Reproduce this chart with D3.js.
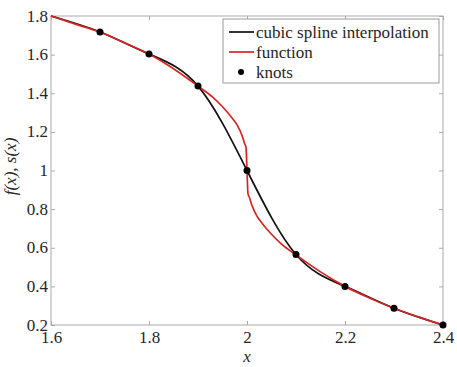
<!DOCTYPE html>
<html>
<head>
<meta charset="utf-8">
<script src="https://cdn.jsdelivr.net/npm/d3@7"></script>
<style>
	body { margin: 0; background: #fff; }
	svg text { font-family: 'Liberation Serif', serif !important; }
</style>
</head>
<body>
<div class="chart"></div>
<script>
// knots of the spline (the first one is the left end, no marker drawn there)
const knotX = [1.6, 1.7, 1.8, 1.9, 2.0, 2.1, 2.2, 2.3, 2.4]
const knotY = [1.8, 1.717, 1.603, 1.437, 1.0, 0.565, 0.4, 0.287, 0.2]

// the function
const funcX = [1.6, 1.65, 1.7, 1.75, 1.8, 1.85, 1.9, 1.93, 1.95, 1.97, 1.98, 1.99, 1.995, 1.998,
	2.0, 2.002, 2.005, 2.01, 2.02, 2.03, 2.05, 2.07, 2.1, 2.15, 2.2, 2.25, 2.3, 2.35, 2.4]
const funcY = [1.8, 1.758, 1.717, 1.662, 1.603, 1.527, 1.437, 1.38, 1.33, 1.27, 1.235, 1.18, 1.14, 1.12,
	1.0, 0.88, 0.86, 0.82, 0.765, 0.73, 0.67, 0.62, 0.563, 0.475, 0.4, 0.34, 0.287, 0.242, 0.2]

const xTicks = [1.6, 1.8, 2, 2.2, 2.4]
const yTicks = [0.2, 0.4, 0.6, 0.8, 1, 1.2, 1.4, 1.6, 1.8]
const legendLabels = ['cubic spline interpolation', 'function', 'knots']

const W = 457, H = 367
const margin = ({ top: 16, right: 14, bottom: 42, left: 51 })
const width = W - margin.left - margin.right
const height = H - margin.top - margin.bottom
const axisColor = '#a9a9a9'
const red = '#d42424'
const serif = 'Liberation Serif'

const svg = d3.select('.chart')
	.append('svg')
	.attr('width', W)
	.attr('height', H)
	.style('display', 'block')

const g = svg.append('g')
	.attr('transform', `translate(${margin.left},${margin.top})`)

const x = d3.scaleLinear().domain([1.6, 2.4]).range([0, width])
const y = d3.scaleLinear().domain([0.2, 1.8]).range([height, 0])

const fmt = d3.format('')

// axes with inward ticks
function styleAxis(sel) {
	sel.attr('font-size', 17).attr('font-family', null)
	sel.select('.domain').remove()
	sel.selectAll('line').attr('stroke', axisColor)
	sel.selectAll('text').attr('fill', '#262626')
}

g.append('g')
	.attr('transform', `translate(0,${height})`)
	.call(d3.axisBottom(x).tickValues(xTicks).tickFormat(fmt).tickSize(-4).tickPadding(6))
	.call(styleAxis)

g.append('g')
	.call(d3.axisTop(x).tickValues(xTicks).tickFormat('').tickSize(-4))
	.call(styleAxis)

g.append('g')
	.call(d3.axisLeft(y).tickValues(yTicks).tickFormat(fmt).tickSize(-4).tickPadding(3))
	.call(styleAxis)
	.selectAll('text').attr('dy', '0.3em')

g.append('g')
	.attr('transform', `translate(${width},0)`)
	.call(d3.axisRight(y).tickValues(yTicks).tickFormat('').tickSize(-4))
	.call(styleAxis)

g.append('rect')
	.attr('width', width)
	.attr('height', height)
	.attr('fill', 'none')
	.attr('stroke', axisColor)

// curves
const knots = knotX.map((v, i) => ({ x: v, y: knotY[i] }))
const func = funcX.map((v, i) => ({ x: v, y: funcY[i] }))

g.append('path')
	.datum(knots)
	.attr('fill', 'none')
	.attr('stroke', '#111')
	.attr('stroke-width', 1.7)
	.attr('d', d3.line().x(d => x(d.x)).y(d => y(d.y)).curve(d3.curveNatural))

g.append('path')
	.datum(func)
	.attr('fill', 'none')
	.attr('stroke', red)
	.attr('stroke-width', 1.7)
	.attr('d', d3.line().x(d => x(d.x)).y(d => y(d.y)).curve(d3.curveMonotoneX))

g.selectAll('.knot')
	.data(knots.filter(d => d.x > 1.6))
	.join('circle')
	.attr('class', 'knot')
	.attr('cx', d => x(d.x))
	.attr('cy', d => y(d.y))
	.attr('r', 3.5)
	.attr('fill', '#000')

// axis labels
svg.append('text')
	.attr('x', margin.left + width / 2)
	.attr('y', 362)
	.attr('text-anchor', 'middle')
	.attr('font-size', 17)
	.attr('font-style', 'italic')
	.attr('fill', '#262626')
	.text('x')

svg.append('text')
	.attr('transform', `translate(16,${margin.top + height / 2 - 4}) rotate(-90)`)
	.attr('text-anchor', 'middle')
	.attr('font-size', 17)
	.attr('font-style', 'italic')
	.attr('fill', '#262626')
	.text('f(x), s(x)')

// legend
const legend = svg.append('g').attr('transform', 'translate(223,19)')
legend.append('rect')
	.attr('width', 216)
	.attr('height', 64)
	.attr('fill', '#fff')
	.attr('stroke', '#9a9a9a')

const rows = legend.selectAll('.row')
	.data(legendLabels)
	.join('g')
	.attr('transform', (d, i) => `translate(0,${13 + i * 20})`)

rows.filter((d, i) => i < 2)
	.append('line')
	.attr('x1', 6).attr('x2', 31)
	.attr('stroke', (d, i) => i === 0 ? '#111' : red)
	.attr('stroke-width', 1.7)

rows.filter((d, i) => i === 2)
	.append('circle')
	.attr('cx', 18)
	.attr('r', 3)
	.attr('fill', '#000')

rows.append('text')
	.attr('x', 33)
	.attr('dy', '0.33em')
	.attr('font-size', 17)
	.attr('fill', '#262626')
	.text(d => d)

svg.selectAll('text').style('font-family', serif)
</script>
</body>
</html>
